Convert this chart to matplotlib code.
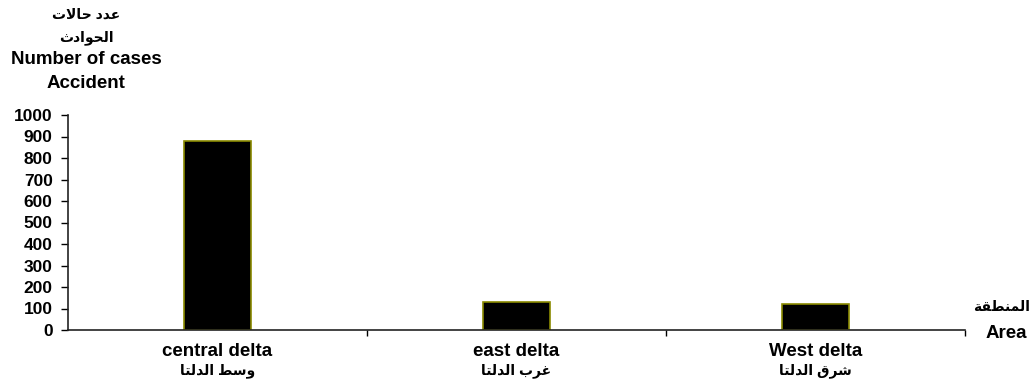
import numpy as np
import matplotlib.pyplot as plt

# data
areas_en = ["central delta", "east delta", "West delta"]
areas_ar = ["وسط الدلتا", "غرب الدلتا", "شرق الدلتا"]
cases = [880, 130, 120]
y_ticks = [0, 100, 200, 300, 400, 500, 600, 700, 800, 900, 1000]
ylabel_lines = ["عدد حالات", "الحوادث", "Number of cases", "Accident"]
xlabel_lines = ["المنطقة", "Area"]

# matplotlib has no arabic shaping, so pick the joined glyph forms by hand
FORMS = {'ا': (0xFE8D, 2), 'ب': (0xFE8F, 4), 'ة': (0xFE93, 2), 'ت': (0xFE95, 4),
         'ث': (0xFE99, 4), 'ح': (0xFEA1, 4), 'د': (0xFEA9, 2), 'ر': (0xFEAD, 2),
         'س': (0xFEB1, 4), 'ش': (0xFEB5, 4), 'ط': (0xFEC1, 4), 'ع': (0xFEC9, 4),
         'غ': (0xFECD, 4), 'ق': (0xFED5, 4), 'ل': (0xFEDD, 4), 'م': (0xFEE1, 4),
         'ن': (0xFEE5, 4), 'و': (0xFEED, 2)}


def shape(s):
    if not any(c in FORMS for c in s):
        return s
    out = []
    i = 0
    while i < len(s):
        c = s[i]
        if c not in FORMS:
            out.append(c)
            i += 1
            continue
        prev = s[i - 1] if i > 0 else ' '
        joins_prev = prev in FORMS and FORMS[prev][1] == 4
        if c == 'ل' and i + 1 < len(s) and s[i + 1] == 'ا':
            out.append(chr(0xFEFC if joins_prev else 0xFEFB))
            i += 2
            continue
        nxt = s[i + 1] if i + 1 < len(s) else ' '
        base, n = FORMS[c]
        joins_next = n == 4 and nxt in FORMS
        if joins_prev and joins_next:
            g = base + 3
        elif joins_next:
            g = base + 2
        elif joins_prev:
            g = base + 1
        else:
            g = base
        out.append(chr(g))
        i += 1
    return ''.join(out[::-1])


def is_arabic(s):
    return any(c in FORMS for c in s)


plt.rcParams['font.family'] = ['Liberation Sans', 'DejaVu Sans']
plt.rcParams['font.weight'] = 'bold'

fig = plt.figure(figsize=(10.34, 3.85), dpi=100)
ax = fig.add_axes([68 / 1034, 1 - 330 / 385, (965 - 68) / 1034, (330 - 115) / 385])

x = np.arange(len(cases))
ax.bar(x, cases, width=0.225, color='black', edgecolor='#8a8a00', linewidth=1.2)

ax.set_xlim(-0.5, len(cases) - 0.5)
ax.set_ylim(0, 1000)
ax.set_yticks(y_ticks)
ax.set_yticklabels([str(v) for v in y_ticks], fontsize=12.5, fontweight='bold')
ax.tick_params(axis='y', direction='out', length=5, width=1, pad=6)

ax.set_xticks(np.arange(len(cases)) + 0.5)
ax.set_xticklabels([])
ax.tick_params(axis='x', direction='out', length=4, width=1)

for s in ['top', 'right']:
    ax.spines[s].set_visible(False)
for s in ['left', 'bottom']:
    ax.spines[s].set_linewidth(1.2)
    ax.spines[s].set_color('#222222')

for i in range(len(cases)):
    ax.text(i, -0.10, areas_en[i], transform=ax.get_xaxis_transform(),
            ha='center', va='center', fontsize=13.5, fontweight='bold')
    ax.text(i, -0.19, shape(areas_ar[i]), transform=ax.get_xaxis_transform(),
            ha='center', va='center', fontsize=10, fontweight='bold')

ylab_y = [15, 38, 60, 83]
for txt, yy in zip(ylabel_lines, ylab_y):
    fig.text(86 / 1034, 1 - yy / 385, shape(txt), ha='center', va='center',
             fontsize=10 if is_arabic(txt) else 13.5, fontweight='bold')

fig.text(1002 / 1034, 1 - 307 / 385, shape(xlabel_lines[0]), ha='center', va='center',
         fontsize=10, fontweight='bold')
fig.text(1006 / 1034, 1 - 333 / 385, xlabel_lines[1], ha='center', va='center',
         fontsize=13.5, fontweight='bold')

fig.savefig('out.png', dpi=100)
